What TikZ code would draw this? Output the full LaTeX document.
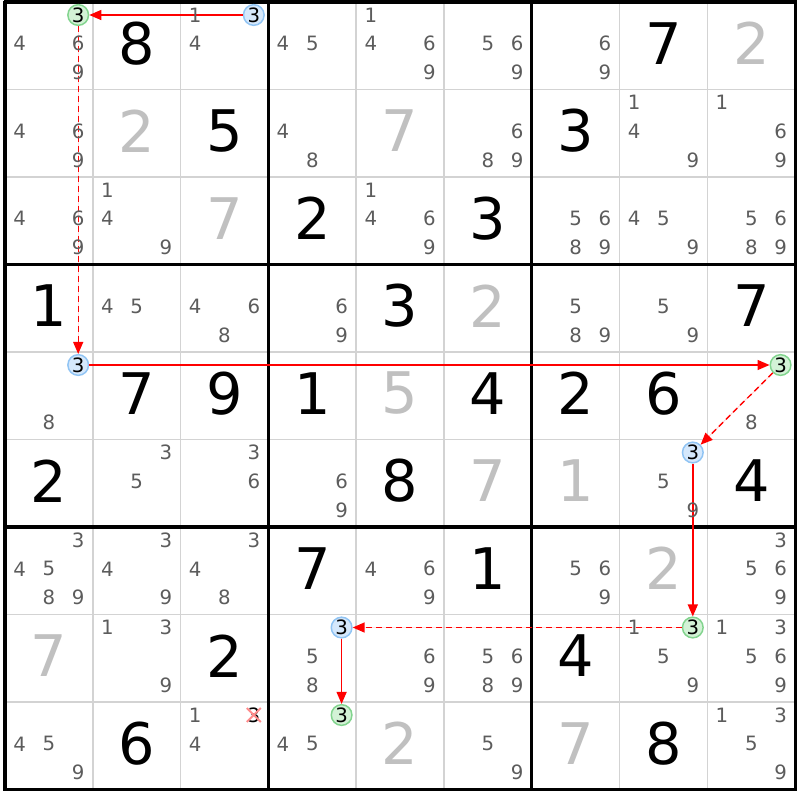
\documentclass[tikz,border=0pt]{standalone}
\usepackage{fontspec}
\setmainfont{DejaVu Sans}
\usetikzlibrary{arrows.meta}
\definecolor{candgray}{HTML}{5C5C5C}
\definecolor{solvgray}{HTML}{C0C0C0}
\definecolor{gridgray}{HTML}{D3D3D3}
\definecolor{bluefill}{HTML}{D5E8FC}
\definecolor{blueline}{HTML}{90C4F4}
\definecolor{greenfill}{HTML}{D3F2D6}
\definecolor{greenline}{HTML}{82D48E}
\definecolor{chainred}{HTML}{FF0000}
\def\GX{5}\def\GY{2}\def\CSZ{87.8}\def\CHZ{87.5}
\newcommand\CandPos[3]{({\GX+\CSZ*(#2-1)+14.6+29.3*mod(#3-1,3)},{\GY+\CHZ*(#1-1)+13+28.8*floor((#3-1)/3)})}
\newcommand\Cand[3]{\node[candst] (k#1#2#3) at \CandPos{#1}{#2}{#3} {#3};}
\newcommand\Cands[3]{\foreach \dd in {#3}{\Cand{#1}{#2}{\dd}}}
\newcommand\Given[3]{\node[givenst] (g#1#2) at ({\GX+\CSZ*(#2-0.5)},{\GY+\CHZ*(#1-0.5)-2.5}) {#3};}
\newcommand\Solved[3]{\node[solvst] (s#1#2) at ({\GX+\CSZ*(#2-0.5)},{\GY+\CHZ*(#1-0.5)-2.5}) {#3};}
\begin{document}
\begin{tikzpicture}[x=0.75pt,y=-0.75pt,
  candst/.style={text=candgray, font=\fontsize{14.8}{14.8}\selectfont, inner sep=0pt},
  givenst/.style={text=black, font=\fontsize{43}{43}\selectfont, inner sep=0pt},
  solvst/.style={givenst, text=solvgray},
  thinline/.style={gridgray, line width=1.1pt},
  thickline/.style={black, line width=2.4pt},
  bluec/.style={circle, draw=blueline, fill=bluefill, line width=1.1pt, minimum size=15.5pt, inner sep=0pt, font=\fontsize{14.8}{14.8}\selectfont},
  greenc/.style={bluec, draw=greenline, fill=greenfill},
  strong/.style={draw=chainred, fill=chainred, line width=1.05pt, -{Triangle[length=9pt,width=7.5pt]}},
  weak/.style={strong, dash pattern=on 4.5pt off 3pt},
  xmark/.style={draw=chainred!45, line width=1.4pt}]
\useasboundingbox (0,0) rectangle (800,800);
\fill[white] (0,0) rectangle (800,800);
% thin grid
\foreach \i in {1,2,4,5,7,8}{
  \draw[thinline] ({\GX+\CSZ*\i},\GY) -- ({\GX+\CSZ*\i},{\GY+9*\CHZ});
  \draw[thinline] (\GX,{\GY+\CHZ*\i}) -- ({\GX+9*\CSZ},{\GY+\CHZ*\i});
}
% thick grid
\foreach \i in {0,3,6,9}{
  \draw[thickline] ({\GX+\CSZ*\i},{\GY-1.5}) -- ({\GX+\CSZ*\i},{\GY+9*\CHZ+1.5});
  \draw[thickline] ({\GX-1.5},{\GY+\CHZ*\i}) -- ({\GX+9*\CSZ+1.5},{\GY+\CHZ*\i});
}
% chain nodes
\node[greenc] (c11) at \CandPos{1}{1}{3} {3};
\node[bluec]  (c13) at \CandPos{1}{3}{3} {3};
\node[bluec]  (c51) at \CandPos{5}{1}{3} {3};
\node[greenc] (c59) at \CandPos{5}{9}{3} {3};
\node[bluec]  (c68) at \CandPos{6}{8}{3} {3};
\node[greenc] (c88) at \CandPos{8}{8}{3} {3};
\node[bluec]  (c84) at \CandPos{8}{4}{3} {3};
\node[greenc] (c94) at \CandPos{9}{4}{3} {3};
% chain links
\draw[strong] (c13) -- (c11);
\draw[weak]   (c11) -- (c51);
\draw[strong] (c51) -- (c59);
\draw[weak]   (c59) -- (c68);
\draw[strong] (c68) -- (c88);
\draw[weak]   (c88) -- (c84);
\draw[strong] (c84) -- (c94);
% givens
\Given{1}{2}{8}\Given{1}{8}{7}\Given{2}{3}{5}\Given{2}{7}{3}
\Given{3}{4}{2}\Given{3}{6}{3}\Given{4}{1}{1}\Given{4}{5}{3}\Given{4}{9}{7}
\Given{5}{2}{7}\Given{5}{3}{9}\Given{5}{4}{1}\Given{5}{6}{4}\Given{5}{7}{2}\Given{5}{8}{6}
\Given{6}{1}{2}\Given{6}{5}{8}\Given{6}{9}{4}\Given{7}{4}{7}\Given{7}{6}{1}
\Given{8}{3}{2}\Given{8}{7}{4}\Given{9}{2}{6}\Given{9}{8}{8}
% solved
\Solved{1}{9}{2}\Solved{2}{2}{2}\Solved{2}{5}{7}\Solved{3}{3}{7}\Solved{4}{6}{2}
\Solved{5}{5}{5}\Solved{6}{6}{7}\Solved{6}{7}{1}\Solved{7}{8}{2}\Solved{8}{1}{7}
\Solved{9}{5}{2}\Solved{9}{7}{7}
% candidates
\Cands{1}{1}{4,6,9}\Cands{1}{3}{1,4}\Cands{1}{4}{4,5}\Cands{1}{5}{1,4,6,9}
\Cands{1}{6}{5,6,9}\Cands{1}{7}{6,9}
\Cands{2}{1}{4,6,9}\Cands{2}{4}{4,8}\Cands{2}{6}{6,8,9}\Cands{2}{8}{1,4,9}\Cands{2}{9}{1,6,9}
\Cands{3}{1}{4,6,9}\Cands{3}{2}{1,4,9}\Cands{3}{5}{1,4,6,9}\Cands{3}{7}{5,6,8,9}
\Cands{3}{8}{4,5,9}\Cands{3}{9}{5,6,8,9}
\Cands{4}{2}{4,5}\Cands{4}{3}{4,6,8}\Cands{4}{4}{6,9}\Cands{4}{7}{5,8,9}\Cands{4}{8}{5,9}
\Cands{5}{1}{8}\Cands{5}{9}{8}
\Cands{6}{2}{3,5}\Cands{6}{3}{3,6}\Cands{6}{4}{6,9}\Cands{6}{8}{5,9}
\Cands{7}{1}{3,4,5,8,9}\Cands{7}{2}{3,4,9}\Cands{7}{3}{3,4,8}\Cands{7}{5}{4,6,9}
\Cands{7}{7}{5,6,9}\Cands{7}{9}{3,5,6,9}
\Cands{8}{2}{1,3,9}\Cands{8}{4}{5,8}\Cands{8}{5}{6,9}\Cands{8}{6}{5,6,8,9}
\Cands{8}{8}{1,5,9}\Cands{8}{9}{1,3,5,6,9}
\Cands{9}{1}{4,5,9}\Cands{9}{3}{1,4}\Cands{9}{4}{4,5}\Cands{9}{6}{5,9}\Cands{9}{9}{1,3,5,9}
% eliminated candidate
\node[candst, text=black] (x93) at \CandPos{9}{3}{3} {3};
\draw[xmark] (x93.center) ++(-7,-7) -- ++(14,14);
\draw[xmark] (x93.center) ++(7,-7) -- ++(-14,14);
\end{tikzpicture}
\end{document}
